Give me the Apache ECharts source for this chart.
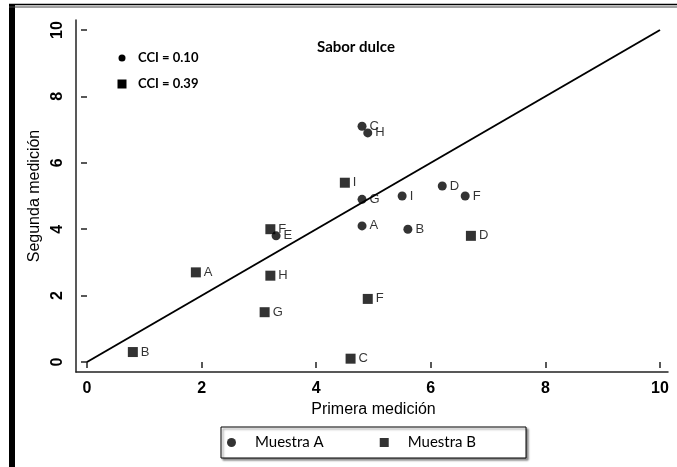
<!DOCTYPE html>
<html>
<head>
<meta charset="utf-8">
<script src="https://cdn.jsdelivr.net/npm/echarts@6/dist/echarts.min.js"></script>
<style>
html,body{margin:0;padding:0;background:#fff;}
#chart{width:677px;height:467px;}
</style>
</head>
<body>
<div id="chart"></div>
<script>
// ---- data ----
const muestraA_x = [4.8, 5.6, 4.8, 6.2, 3.3, 6.6, 4.8, 4.9, 5.5];
const muestraA_y = [4.1, 4.0, 7.1, 5.3, 3.8, 5.0, 4.9, 6.9, 5.0];
const muestraA_labels = ['A', 'B', 'C', 'D', 'E', 'F', 'G', 'H', 'I'];

const muestraB_x = [1.9, 0.8, 4.6, 6.7, 3.2, 4.9, 3.1, 3.2, 4.5];
const muestraB_y = [2.7, 0.3, 0.1, 3.8, 4.0, 1.9, 1.5, 2.6, 5.4];
const muestraB_labels = ['A', 'B', 'C', 'D', 'F', 'F', 'G', 'H', 'I'];

const identityLine = [[0, 0], [10, 10]];
const tickValues = [0, 2, 4, 6, 8, 10];
const titleText = 'Sabor dulce';
const cciTexts = ['CCI = 0.10', 'CCI = 0.39'];
const xTitle = 'Primera medición';
const yTitle = 'Segunda medición';
const seriesNames = ['Muestra A', 'Muestra B'];

function pts(xs, ys, labels) {
  return xs.map((x, i) => ({ value: [x, ys[i]], name: labels[i] }));
}

const tickFont = "'Liberation Sans Narrow','Liberation Sans',Arial,sans-serif";
const calFont = "Lato,'Open Sans',sans-serif";

const chart = echarts.init(document.getElementById('chart'), null, { renderer: 'canvas' });

const labelStyle = {
  show: true,
  position: 'right',
  distance: 3,
  formatter: p => p.name,
  color: '#000',
  fontFamily: "'Liberation Sans',Arial,sans-serif",
  fontSize: 13
};

chart.setOption({
  animation: false,
  backgroundColor: '#fff',
  title: {
    text: titleText,
    left: 312,
    top: 35,
    textStyle: { fontFamily: calFont, fontWeight: 'bold', fontSize: 15, color: '#000' }
  },
  grid: [
    { left: 87, right: 17, top: 30, bottom: 105 },
    { left: 76, right: 9, top: 20, bottom: 95 }
  ],
  xAxis: [
    {
      gridIndex: 0, type: 'value', min: 0, max: 10, interval: 2, offset: 10,
      axisLine: { show: false },
      axisTick: { show: true, length: 6, lineStyle: { color: '#222', width: 1.5 } },
      axisLabel: { margin: 9, color: '#000', fontFamily: tickFont, fontWeight: 'bold', fontSize: 16,
                   customValues: tickValues },
      splitLine: { show: false },
      name: xTitle, nameLocation: 'middle', nameGap: 28,
      nameTextStyle: { color: '#000', fontFamily: tickFont, fontSize: 16 }
    },
    {
      gridIndex: 1, type: 'value', min: 0, max: 1,
      axisLine: { show: true, lineStyle: { color: '#222', width: 1.5 } },
      axisTick: { show: false }, axisLabel: { show: false }, splitLine: { show: false }
    }
  ],
  yAxis: [
    {
      gridIndex: 0, type: 'value', min: 0, max: 10, interval: 2, offset: 11,
      axisLine: { show: false },
      axisTick: { show: true, length: 6, lineStyle: { color: '#222', width: 1.5 } },
      axisLabel: { margin: 10, rotate: 90, color: '#000', fontFamily: tickFont, fontWeight: 'bold', fontSize: 16 },
      splitLine: { show: false },
      name: yTitle, nameLocation: 'middle', nameGap: 29,
      nameTextStyle: { color: '#000', fontFamily: tickFont, fontSize: 16 }
    },
    {
      gridIndex: 1, type: 'value', min: 0, max: 1,
      axisLine: { show: true, lineStyle: { color: '#222', width: 1.5 } },
      axisTick: { show: false }, axisLabel: { show: false }, splitLine: { show: false }
    }
  ],
  legend: {
    data: [
      { name: seriesNames[0], icon: 'circle' },
      { name: seriesNames[1], icon: 'rect' }
    ],
    left: 221, top: 427,
    orient: 'horizontal',
    itemWidth: 9, itemHeight: 9,
    itemGap: 56,
    padding: [8, 50, 8, 6],
    borderColor: '#000', borderWidth: 1,
    backgroundColor: '#fff',
    shadowColor: 'rgba(0,0,0,0.45)', shadowBlur: 2, shadowOffsetX: 2, shadowOffsetY: 2,
    textStyle: { color: '#000', fontFamily: calFont, fontSize: 15, padding: [0, 0, 0, 14] }
  },
  series: [
    {
      name: 'identidad', type: 'line', xAxisIndex: 0, yAxisIndex: 0,
      data: identityLine, symbol: 'none', silent: true,
      lineStyle: { color: '#000', width: 2 }
    },
    {
      name: seriesNames[0], type: 'scatter', xAxisIndex: 0, yAxisIndex: 0,
      symbol: 'circle', symbolSize: 9,
      itemStyle: { color: '#000' },
      label: labelStyle,
      data: pts(muestraA_x, muestraA_y, muestraA_labels)
    },
    {
      name: seriesNames[1], type: 'scatter', xAxisIndex: 0, yAxisIndex: 0,
      symbol: 'rect', symbolSize: 10,
      itemStyle: { color: '#000' },
      label: labelStyle,
      data: pts(muestraB_x, muestraB_y, muestraB_labels)
    }
  ],
  graphic: [
    // frame: left thick bar and top double line
    { type: 'rect', shape: { x: 9, y: 5, width: 6, height: 462 }, style: { fill: '#000' }, silent: true },
    { type: 'line', shape: { x1: 9, y1: 4.5, x2: 677, y2: 4.5 }, style: { stroke: '#000', lineWidth: 1.5 }, silent: true },
    { type: 'line', shape: { x1: 9, y1: 7, x2: 677, y2: 7 }, style: { stroke: '#444', lineWidth: 1 }, silent: true },
    // CCI annotations
    { type: 'circle', shape: { cx: 122, cy: 58, r: 3.5 }, style: { fill: '#000' }, silent: true },
    { type: 'text', x: 138, y: 58, style: { text: cciTexts[0], fill: '#000', font: "bold 13px " + calFont, textVerticalAlign: 'middle' }, silent: true },
    { type: 'rect', shape: { x: 117.5, y: 79.5, width: 9, height: 9 }, style: { fill: '#000' }, silent: true },
    { type: 'text', x: 138, y: 84, style: { text: cciTexts[1], fill: '#000', font: "bold 13px " + calFont, textVerticalAlign: 'middle' }, silent: true }
  ]
});
</script>
</body>
</html>
